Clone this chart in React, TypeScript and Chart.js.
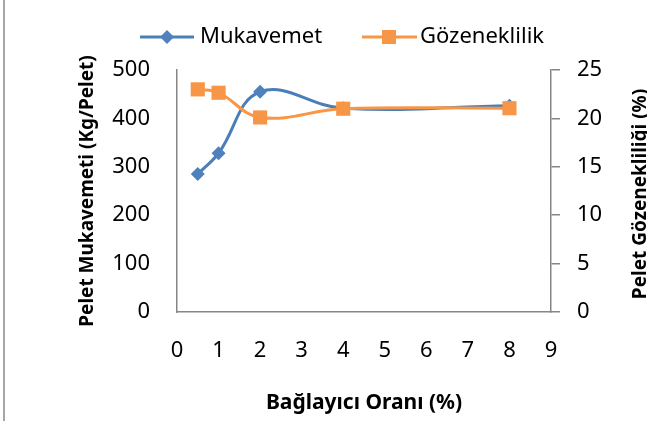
import React, { useEffect, useRef } from "react";
import { Chart, registerables } from "chart.js";

Chart.register(...registerables);

const binderRatio = [0.5, 1, 2, 4, 8];
const strength = [285, 328, 455, 421, 426];
const porosity = [23.0, 22.65, 20.1, 21.0, 21.05];
const xTicks = [0, 1, 2, 3, 4, 5, 6, 7, 8, 9];
const leftTicks = [0, 100, 200, 300, 400, 500];
const rightTicks = [0, 5, 10, 15, 20, 25];

const seriesNames = ["Mukavemet", "Gözeneklilik"];
const xTitle = "Bağlayıcı Oranı (%)";
const leftTitle = "Pelet Mukavemeti (Kg/Pelet)";
const rightTitle = "Pelet Gözenekliliği (%)";

const BLUE = "#4A7EBB";
const BLUE_M = "#4F81BD";
const ORANGE = "#F79646";
const AXIS = "#868686";
const FONT = "'Noto Sans', 'Open Sans', sans-serif";

const extrasPlugin = {
  id: "extras",
  beforeDraw(chart: any) {
    const ctx = chart.ctx;
    ctx.save();
    ctx.fillStyle = "#fff";
    ctx.fillRect(0, 0, chart.width, chart.height);
    ctx.fillStyle = "#A6A6A6";
    ctx.fillRect(3, 0, 2, chart.height);
    ctx.restore();
  },
  afterDraw(chart: any) {
    const ctx = chart.ctx;
    ctx.save();
    // legend
    const ly = 37;
    ctx.lineWidth = 3;
    ctx.strokeStyle = BLUE;
    ctx.beginPath();
    ctx.moveTo(140, ly);
    ctx.lineTo(194, ly);
    ctx.stroke();
    ctx.fillStyle = BLUE_M;
    ctx.beginPath();
    ctx.moveTo(167 - 7, ly);
    ctx.lineTo(167, ly - 7);
    ctx.lineTo(167 + 7, ly);
    ctx.lineTo(167, ly + 7);
    ctx.closePath();
    ctx.fill();
    ctx.strokeStyle = ORANGE;
    ctx.beginPath();
    ctx.moveTo(362, ly);
    ctx.lineTo(417, ly);
    ctx.stroke();
    ctx.fillStyle = ORANGE;
    ctx.fillRect(389 - 7, ly - 7, 14, 14);
    ctx.fillStyle = "#000";
    ctx.font = `22px ${FONT}`;
    ctx.textBaseline = "middle";
    ctx.textAlign = "left";
    ctx.fillText(seriesNames[0], 200, ly);
    ctx.fillText(seriesNames[1], 420, ly);
    // right title
    const area = chart.chartArea;
    ctx.translate(641, (area.top + area.bottom) / 2 + 3);
    ctx.rotate(-Math.PI / 2);
    ctx.font = `bold 19px ${FONT}`;
    ctx.textAlign = "center";
    ctx.fillText(rightTitle, 0, 0);
    ctx.restore();
  },
};

export default function App() {
  const ref = useRef<HTMLCanvasElement | null>(null);
  useEffect(() => {
    if (!ref.current) return;
    const chart = new Chart(ref.current, {
      type: "line",
      data: {
        datasets: [
          {
            label: seriesNames[0],
            data: binderRatio.map((x, i) => ({ x, y: strength[i] })),
            borderColor: BLUE,
            backgroundColor: BLUE_M,
            pointBackgroundColor: BLUE_M,
            pointBorderColor: BLUE_M,
            pointStyle: "rectRot",
            pointRadius: 7,
            pointBorderWidth: 0,
            borderWidth: 3,
            tension: 0.4,
            yAxisID: "y",
            order: 2,
          },
          {
            label: seriesNames[1],
            data: binderRatio.map((x, i) => ({ x, y: porosity[i] })),
            borderColor: ORANGE,
            backgroundColor: ORANGE,
            pointBackgroundColor: ORANGE,
            pointBorderColor: ORANGE,
            pointStyle: "rect",
            pointRadius: 10,
            pointBorderWidth: 0,
            borderWidth: 3,
            tension: 0.4,
            yAxisID: "y1",
            order: 1,
          },
        ],
      },
      options: {
        responsive: false,
        animation: false,
        devicePixelRatio: 1,
        layout: { padding: { top: 70, left: 0, right: 0, bottom: 0 } },
        plugins: {
          legend: { display: false },
          tooltip: { enabled: false },
        },
        scales: {
          x: {
            type: "linear",
            position: "bottom",
            min: 0,
            max: 9,
            afterBuildTicks: (s: any) => {
              s.ticks = xTicks.map((v) => ({ value: v }));
            },
            afterFit: (s: any) => {
              s.height = 109;
            },
            grid: { display: false, drawTicks: false },
            border: { display: true, color: AXIS, width: 1.5 },
            ticks: {
              padding: 26,
              color: "#000",
              font: { family: FONT, size: 22 },
              maxRotation: 0,
            },
            title: {
              display: true,
              text: xTitle,
              color: "#000",
              font: { family: FONT, size: 21, weight: "bold" },
              padding: { top: 0, bottom: 5 },
            },
          },
          y: {
            type: "linear",
            position: "left",
            min: 0,
            max: 500,
            afterBuildTicks: (s: any) => {
              s.ticks = leftTicks.map((v) => ({ value: v }));
            },
            afterFit: (s: any) => {
              s.width = 177;
            },
            grid: { display: false, drawTicks: false },
            border: { display: true, color: AXIS, width: 1.5 },
            ticks: {
              padding: 27,
              color: "#000",
              font: { family: FONT, size: 22 },
            },
            title: {
              display: true,
              text: leftTitle,
              color: "#000",
              font: { family: FONT, size: 19, weight: "bold" },
              padding: { top: 76, bottom: 0 },
            },
          },
          y1: {
            type: "linear",
            position: "right",
            min: 0,
            max: 25,
            afterBuildTicks: (s: any) => {
              s.ticks = rightTicks.map((v) => ({ value: v }));
            },
            afterFit: (s: any) => {
              s.width = 96;
            },
            grid: {
              display: true,
              drawOnChartArea: false,
              drawTicks: true,
              tickLength: 9,
              color: AXIS,
              lineWidth: 1.5,
            },
            border: { display: true, color: AXIS, width: 1.5 },
            ticks: {
              padding: 17,
              color: "#000",
              font: { family: FONT, size: 22 },
            },
          },
        },
      },
      plugins: [extrasPlugin],
    } as any);
    return () => chart.destroy();
  }, []);
  return (
    <div style={{ position: "fixed", left: 0, top: 0, width: 647, height: 421 }}>
      <canvas ref={ref} width={647} height={421} style={{ width: 647, height: 421 }} />
    </div>
  );
}
